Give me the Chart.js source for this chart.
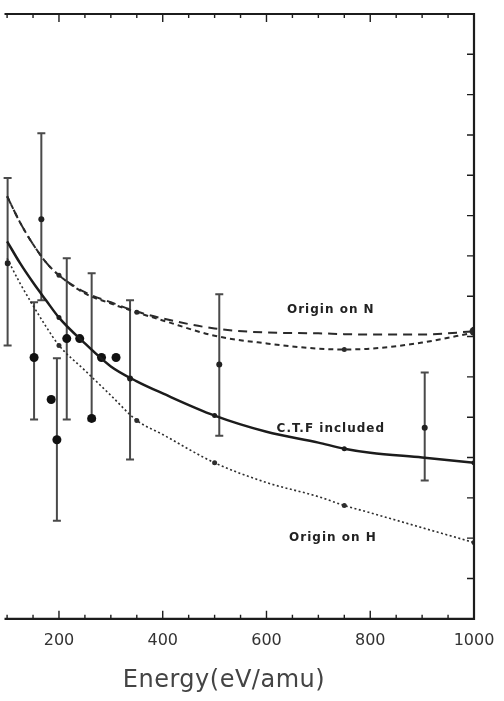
<!DOCTYPE html>
<html>
<head>
<meta charset="utf-8">
<script src="https://cdn.jsdelivr.net/npm/chart.js@4.4.1/dist/chart.umd.min.js"></script>
<style>
  html, body { margin: 0; padding: 0; background: #ffffff; }
  #wrap { width: 504px; height: 701px; }
</style>
</head>
<body>
<div id="wrap"><canvas id="chart" width="504" height="701"></canvas></div>
<script>
// Energy axis (eV/amu) tick labels
const energyTicks = [200, 400, 600, 800, 1000];
const axisTitle = 'Energy(eV/amu)';

// Calculated curves, sampled on a common energy grid
const curveEnergy  = [100, 125, 150, 175, 200, 250, 300, 350, 400, 500, 600, 700, 750, 800, 900, 1000];
const originNLong  = [10.48, 9.83, 9.29, 8.84, 8.52, 8.10, 7.85, 7.62, 7.45, 7.20, 7.10, 7.08, 7.06, 7.05, 7.05, 7.13];
const originNShort = [10.48, 9.83, 9.29, 8.84, 8.52, 8.07, 7.82, 7.60, 7.40, 7.02, 6.83, 6.70, 6.68, 6.70, 6.85, 7.10];
const ctfIncluded  = [9.36, 8.82, 8.34, 7.90, 7.47, 6.83, 6.26, 5.89, 5.59, 5.04, 4.64, 4.37, 4.22, 4.12, 4.00, 3.87];
const originH      = [8.94, 8.32, 7.77, 7.25, 6.78, 6.16, 5.54, 4.92, 4.57, 3.87, 3.38, 3.03, 2.81, 2.63, 2.26, 1.89];

// Energies where the calculation was actually done (marked on each curve)
const nLongMarks  = [200, 1000];
const nShortMarks = [350, 750];
const ctfMarks    = [200, 500, 750, 1000];
const hMarks      = [200, 350, 500, 750, 1000];

// Measurements, set A (large dots)
const expAEnergy = [152, 185, 196, 215, 240, 263, 282, 310];
const expAValue  = [6.48, 5.44, 4.44, 6.95, 6.95, 4.97, 6.48, 6.48];
const expALow    = [4.94, null, 2.43, 4.94, null, 4.92, null, null];
const expAHigh   = [7.85, null, 6.46, 8.94, null, 8.57, null, null];

// Measurements, set B (small markers)
const expBEnergy = [101, 166, 337, 509, 905];
const expBValue  = [8.82, 9.91, 5.96, 6.31, 4.74];
const expBLow    = [6.78, 7.90, 3.95, 4.54, 3.43];
const expBHigh   = [10.93, 12.04, 7.90, 8.05, 6.11];

// Curve captions: [text, energy, value]
const curveCaptions = [
  ['Origin on N', 724, 7.65],
  ['C.T.F included', 724, 4.72],
  ['Origin on H', 728, 2.01]
];

const ink = '#1c1c1c';

function toPoints(xs, ys) {
  return xs.map((x, i) => ({ x: x, y: ys[i] }));
}
function marks(list, r, bigAt, bigR) {
  return curveEnergy.map(e => (e === bigAt ? bigR : (list.includes(e) ? r : 0)));
}

function curve(values, dash, width, color, radius) {
  return {
    data: toPoints(curveEnergy, values),
    showLine: true,
    borderColor: color,
    borderWidth: width,
    borderDash: dash,
    cubicInterpolationMode: 'monotone',
    pointRadius: radius,
    pointBackgroundColor: color,
    pointBorderWidth: 0,
    pointHoverRadius: 0
  };
}

// Error bars drawn from the low/high arrays through the chart scales
const errorBars = {
  id: 'errorBars',
  beforeDatasetsDraw(chart) {
    const { ctx, scales: { x, y } } = chart;
    const sets = [
      [expAEnergy, expALow, expAHigh],
      [expBEnergy, expBLow, expBHigh]
    ];
    ctx.save();
    ctx.strokeStyle = '#4a4a4a';
    ctx.lineWidth = 2;
    ctx.setLineDash([]);
    for (const [es, lo, hi] of sets) {
      es.forEach((e, i) => {
        if (lo[i] === null) return;
        const px = x.getPixelForValue(e);
        const y1 = y.getPixelForValue(lo[i]);
        const y2 = y.getPixelForValue(hi[i]);
        ctx.beginPath();
        ctx.moveTo(px, y1); ctx.lineTo(px, y2);
        ctx.moveTo(px - 4, y1); ctx.lineTo(px + 4, y1);
        ctx.moveTo(px - 4, y2); ctx.lineTo(px + 4, y2);
        ctx.stroke();
      });
    }
    ctx.restore();
  }
};

// Frame on top/right/bottom with inward ticks
const frame = {
  id: 'frame',
  afterDatasetsDraw(chart) {
    const { ctx, chartArea: a, scales: { x, y } } = chart;
    ctx.save();
    ctx.strokeStyle = ink;
    ctx.setLineDash([]);
    ctx.lineWidth = 2.2;
    ctx.beginPath();
    ctx.moveTo(a.left, a.top); ctx.lineTo(a.right, a.top);
    ctx.lineTo(a.right, a.bottom); ctx.lineTo(a.left, a.bottom);
    ctx.stroke();
    ctx.lineWidth = 1.4;
    ctx.beginPath();
    for (let e = 100; e < 1000; e += 50) {
      const px = x.getPixelForValue(e);
      const len = e % 200 === 0 ? 8 : 4;
      ctx.moveTo(px, a.top); ctx.lineTo(px, a.top + len);
      ctx.moveTo(px, a.bottom); ctx.lineTo(px, a.bottom - len);
    }
    for (let v = 1; v < 15; v += 1) {
      const py = y.getPixelForValue(v);
      ctx.moveTo(a.right, py); ctx.lineTo(a.right - 7, py);
    }
    ctx.stroke();
    ctx.restore();
  }
};

// Curve captions and the energy axis title
const captions = {
  id: 'captions',
  afterDraw(chart) {
    const { ctx, chartArea: a, scales: { x, y } } = chart;
    ctx.save();
    ctx.fillStyle = '#222';
    ctx.font = 'bold 12px "DejaVu Sans"';
    ctx.letterSpacing = '1px';
    ctx.textAlign = 'center';
    ctx.textBaseline = 'middle';
    for (const [text, e, v] of curveCaptions) {
      ctx.fillText(text, x.getPixelForValue(e), y.getPixelForValue(v));
    }
    ctx.font = '24px "DejaVu Sans"';
    ctx.letterSpacing = '0.5px';
    ctx.fillStyle = '#444';
    ctx.fillText(axisTitle, x.getPixelForValue(518), a.bottom + 62);
    ctx.restore();
  }
};

new Chart(document.getElementById('chart'), {
  type: 'scatter',
  data: {
    datasets: [
      curve(originNLong, [9, 6], 2, '#2a2a2a', marks(nLongMarks, 2.5, 1000, 4.5)),
      curve(originNShort, [5, 4], 2, '#2a2a2a', marks(nShortMarks, 2.5)),
      curve(ctfIncluded, [], 2.5, ink, marks(ctfMarks, 2.5)),
      curve(originH, [2, 2.5], 1.6, '#2e2e2e', marks(hMarks, 2.5)),
      {
        data: toPoints(expAEnergy, expAValue),
        showLine: false,
        pointRadius: 4.5,
        pointBackgroundColor: '#111',
        pointBorderWidth: 0
      },
      {
        data: toPoints(expBEnergy, expBValue),
        showLine: false,
        pointRadius: 3,
        pointBackgroundColor: '#222',
        pointBorderWidth: 0
      }
    ]
  },
  options: {
    responsive: false,
    animation: false,
    devicePixelRatio: 1,
    layout: { padding: { left: 0, right: 30, top: 14, bottom: 39 } },
    plugins: { legend: { display: false }, tooltip: { enabled: false } },
    scales: {
      x: {
        type: 'linear',
        min: 95,
        max: 1000,
        grid: { display: false, drawTicks: false, tickLength: 0 },
        border: { display: false },
        afterBuildTicks(scale) { scale.ticks = energyTicks.map(v => ({ value: v })); },
        afterFit(scale) { scale.paddingLeft = 0; scale.paddingRight = 0; },
        ticks: {
          padding: 12,
          maxRotation: 0,
          autoSkip: false,
          color: '#333',
          font: { family: 'DejaVu Sans', size: 16 },
          callback: (v) => String(v)
        }
      },
      y: {
        display: false,
        min: 0,
        max: 15
      }
    }
  },
  plugins: [errorBars, frame, captions]
});
</script>
</body>
</html>
